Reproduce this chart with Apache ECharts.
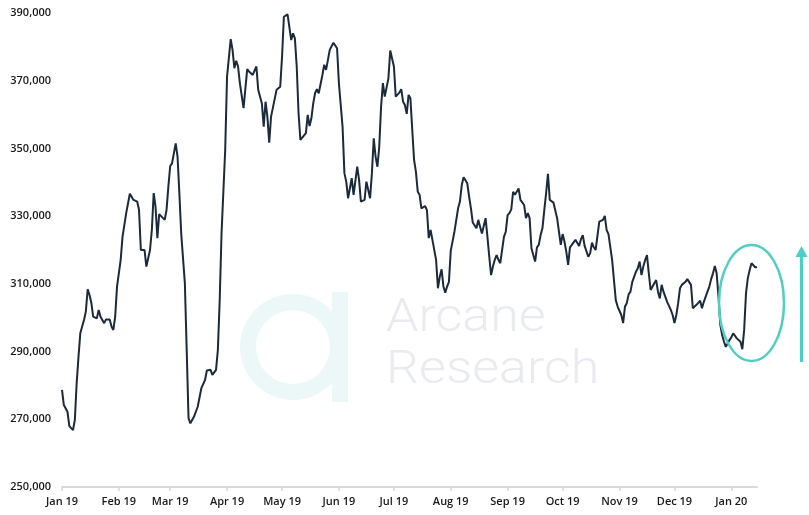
<!DOCTYPE html>
<html>
<head>
<meta charset="utf-8">
<script src="https://cdn.jsdelivr.net/npm/echarts@6/dist/echarts.min.js"></script>
<style>
html,body{margin:0;padding:0;background:#fff;}
#chart{width:809px;height:515px;}
</style>
</head>
<body>
<div id="chart"></div>
<script>
// Days since 1 Jan 2019
var days = [0,1,3,4,5,6,7,8,9,10,12,13,14,15,16,17,18,19,20,21,22,23,24,25,26,27,28,29,30,32,33,35,37,38,39,41,42,43,44,45,46,48,49,50,51,52,53,54,56,57,58,59,60,61,62,63,64,65,67,68,69,70,72,74,76,77,78,79,81,82,84,85,86,87,89,90,92,93,94,95,96,97,98,99,101,102,103,104,106,107,109,110,111,112,113,114,115,117,118,119,120,121,123,124,125,126,127,128,129,130,131,133,134,135,136,137,138,139,140,142,143,144,145,146,148,150,151,152,153,154,155,156,157,158,159,160,161,162,163,164,165,166,167,168,169,170,171,172,173,174,175,176,177,178,179,180,181,182,183,184,185,186,187,188,189,190,191,192,193,194,195,196,197,198,199,200,201,202,204,205,206,207,208,209,210,211,212,213,214,216,217,218,219,220,221,222,223,224,225,226,227,228,229,230,231,232,233,234,235,236,237,238,239,240,241,242,243,244,245,246,247,248,249,250,251,252,253,254,255,256,257,258,259,260,261,262,263,264,265,266,267,268,269,270,271,272,273,274,275,276,277,278,279,280,281,282,283,284,285,286,287,288,289,290,291,292,293,295,296,297,298,299,300,301,302,303,305,306,307,308,309,310,311,312,313,314,315,316,317,318,319,320,321,323,324,325,326,327,328,329,330,331,332,333,334,335,336,337,338,340,341,342,343,344,345,346,347,348,349,350,351,352,353,354,355,356,357,358,359,360,361,362,363,364,365,366,367,368,369,370,371,372,373,374,375,376,377,378,379];
var values = [278700,274200,272200,268000,267800,266800,269800,280700,288500,295500,299300,301800,308400,306700,304400,300300,299800,299800,302300,300300,299800,298400,299500,299300,299500,297400,296400,300300,309200,317100,323900,330900,336600,336300,334800,334300,331800,320000,320300,320000,315100,320000,325900,336800,332800,323500,330600,330100,328900,331800,338700,344800,345600,346100,351500,347600,336800,324900,310200,290500,270300,268800,270800,273700,279200,279200,281600,284400,284600,283100,284600,290500,305200,324900,349600,371200,382300,379100,373700,375900,374200,369300,369300,361900,373400,372700,373200,371700,374200,367300,363300,356400,363800,359400,351700,359400,359900,367300,367100,368200,377100,388900,389600,389100,382000,384000,382500,374200,360400,352500,352000,354500,359900,356600,358900,363300,366300,367500,366300,371700,374700,373200,376100,379100,381200,379600,369300,368800,356400,342700,340200,335300,334800,341200,336300,336800,344600,340700,334300,333800,334800,340200,339700,335300,342700,353000,347600,344600,350500,362300,369300,365300,364800,370700,378900,379100,374200,365300,365800,366500,367500,363800,362800,360200,365800,364800,355500,346600,343100,337200,336300,332300,332300,333000,331800,323500,325900,323000,317100,308700,312100,314300,309200,307400,309200,310600,319800,319800,325400,332300,334300,339200,341500,341700,339700,335800,332300,328100,327900,326400,328900,326900,324900,324900,329400,323900,318000,312600,315100,317100,318500,317100,316100,320000,323900,325400,330300,330900,332000,337200,336300,336800,338200,334800,334800,333300,329400,330900,329400,320500,318500,316600,320800,321500,324400,326400,331800,336800,342500,334800,335300,334000,333800,329400,325400,321500,324700,322500,319500,315600,320800,321500,321200,323000,322500,321200,323200,324400,321200,321200,318000,319000,322200,320800,320000,320500,328400,328900,330100,325900,324700,324400,317100,311100,305200,303300,300800,298400,303300,304300,306900,307700,310600,311100,313600,314600,316600,312600,315100,317000,318500,313100,308200,310200,311100,307700,305700,309700,307700,307200,304700,304300,302300,300800,298400,300800,304300,308700,309700,310600,311400,311100,309700,302800,302500,303800,304100,305000,302800,304700,304700,307700,309200,311400,313100,315300,313100,306200,297900,294900,292900,291400,291400,293400,294200,295400,294900,293900,294200,292900,290700,296400,307200,311700,314100,316100,315600,314900,314900];
// Month tick positions (days since 1 Jan 2019) and their labels
var monthDays = [0,31,59,90,120,151,181,212,243,273,304,334,365];
var monthLabels = ['Jan 19','Feb 19','Mar 19','Apr 19','May 19','Jun 19','Jul 19','Aug 19','Sep 19','Oct 19','Nov 19','Dec 19','Jan 20'];

var seriesData = days.map(function(d, i){ return [d, values[i]]; });

var chart = echarts.init(document.getElementById('chart'), null, {renderer:'canvas'});
var labelFont = {color:'#1a1a1a', fontSize:11, fontWeight:600, fontFamily:'"Open Sans", "Noto Sans", sans-serif'};
chart.setOption({
  animation:false,
  backgroundColor:'#ffffff',
  grid:{left:62, right:52, top:13, bottom:28, containLabel:false},
  xAxis:{
    type:'value', min:0, max:379,
    axisLine:{show:true, lineStyle:{color:'#d9d9d9', width:2}},
    axisTick:{show:true, length:4, lineStyle:{color:'#d9d9d9', width:1.5}, customValues:monthDays},
    axisLabel:Object.assign({margin:9, customValues:monthDays, formatter:function(v){
      var i = monthDays.indexOf(Math.round(v)); return i>=0 ? monthLabels[i] : '';
    }}, labelFont),
    splitLine:{show:false}
  },
  yAxis:{
    type:'value', min:250000, max:390000, interval:20000,
    axisLine:{show:false}, axisTick:{show:false}, splitLine:{show:false},
    axisLabel:Object.assign({margin:11, formatter:function(v){ return v.toLocaleString('en-US'); }}, labelFont)
  },
  graphic:[
    {type:'ring', z:-10, silent:true, shape:{cx:293, cy:347, r:53, r0:37}, style:{fill:'#ecf8f8'}},
    {type:'rect', z:-10, silent:true, shape:{x:332, y:292, width:16, height:110}, style:{fill:'#ecf8f8'}},
    {type:'text', z:-10, silent:true, x:386, y:319, scaleX:1.13, scaleY:1, style:{x:0, y:0, text:'Arcane', font:'300 46px Roboto, sans-serif', fill:'#e9ebf0', verticalAlign:'middle'}},
    {type:'text', z:-10, silent:true, x:386, y:371, scaleX:1.13, scaleY:1, style:{x:0, y:0, text:'Research', font:'300 46px Roboto, sans-serif', fill:'#e9ebf0', verticalAlign:'middle'}},
    {type:'ellipse', z:10, silent:true, shape:{cx:751.5, cy:303, rx:32.5, ry:58}, style:{fill:null, stroke:'#4fcfc4', lineWidth:2.5}},
    {type:'line', z:10, silent:true, shape:{x1:801.5, y1:362, x2:801.5, y2:254}, style:{stroke:'#4fcfc4', lineWidth:3}},
    {type:'polygon', z:10, silent:true, shape:{points:[[795.5,257],[807.5,257],[801.5,246]]}, style:{fill:'#4fcfc4'}}
  ],
  series:[{
    type:'line', data:seriesData, showSymbol:false, smooth:false, z:5,
    lineStyle:{color:'#1b2a3d', width:2}
  }]
});
</script>
</body>
</html>
